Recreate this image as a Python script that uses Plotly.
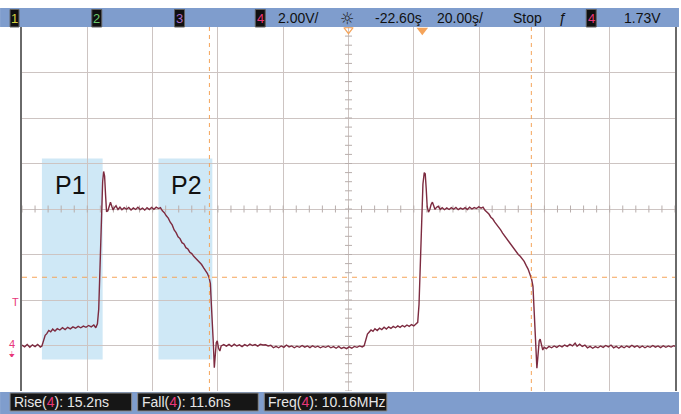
import numpy as np
import plotly.graph_objects as go

# ---------------- data ----------------
# channel 4 trace: (time in ns, volts)
trace_samples = [
    (-122.6, 0.02), (-121.8, -0.06), (-121.0, 0.04), (-120.2, -0.08), (-119.4, 0.03), (-118.6, -0.05),
    (-117.8, 0.05), (-117.0, -0.07), (-116.5, -0.02),
    (-116.0, 0.22), (-115.5, 0.45), (-115.0, 0.52), (-114.4, 0.66), (-113.8, 0.60), (-113.2, 0.72),
    (-112.5, 0.64), (-111.8, 0.74), (-111.0, 0.68), (-110.2, 0.78), (-109.4, 0.70), (-108.6, 0.80),
    (-107.8, 0.73), (-107.0, 0.82), (-106.2, 0.76), (-105.4, 0.84), (-104.6, 0.78), (-103.8, 0.85),
    (-103.0, 0.80), (-102.2, 0.88), (-101.4, 0.82), (-100.6, 0.90), (-100.0, 0.78), (-99.5, 0.95),
    (-99.1, 1.6), (-98.7, 3.4), (-98.3, 5.6), (-97.9, 7.2), (-97.6, 7.65), (-97.3, 7.45), (-97.0, 6.6),
    (-96.7, 5.88), (-96.3, 5.92), (-95.9, 6.18), (-95.5, 6.30), (-95.1, 6.12), (-94.7, 5.96), (-94.3, 6.06),
    (-93.8, 6.14), (-93.2, 5.98), (-92.6, 6.08), (-92.0, 5.97), (-91.3, 6.06), (-90.6, 5.99), (-89.9, 6.07),
    (-89.2, 5.96), (-88.5, 6.05), (-87.8, 5.98), (-87.1, 6.08), (-86.4, 5.97), (-85.7, 6.04), (-85.0, 5.95),
    (-84.3, 6.06), (-83.6, 5.98), (-82.9, 6.07), (-82.2, 5.99), (-81.5, 6.08), (-80.8, 6.02), (-80.2, 6.06),
    (-79.6, 5.92), (-79.0, 5.84), (-78.4, 5.70), (-77.8, 5.60), (-77.2, 5.42), (-76.6, 5.30), (-76.0, 5.08),
    (-75.4, 4.96), (-74.8, 4.78), (-74.2, 4.70), (-73.6, 4.52), (-73.0, 4.46), (-72.4, 4.30), (-71.8, 4.24),
    (-71.2, 4.10), (-70.6, 4.04), (-70.0, 3.92), (-69.4, 3.84), (-68.8, 3.74), (-68.2, 3.64), (-67.6, 3.56),
    (-67.0, 3.42), (-66.4, 3.30), (-65.8, 3.16), (-65.3, 2.98), (-64.9, 2.72),
    (-64.6, 1.8), (-64.3, 1.1), (-64.0, 0.1), (-63.7, -0.98), (-63.4, -0.15), (-63.1, 0.12), (-62.8, 0.20),
    (-62.4, -0.12), (-62.0, -0.24), (-61.6, -0.02),
    (-60.8, 0.04), (-60.0, -0.03), (-59.2, 0.05), (-58.4, -0.04), (-57.6, 0.06), (-56.8, -0.02), (-56.0, 0.03),
    (-55.2, -0.05), (-54.4, 0.04), (-53.6, -0.02), (-52.8, 0.06), (-52.0, 0.00), (-51.2, 0.04), (-50.4, -0.03),
    (-49.6, 0.05), (-48.8, 0.02), (-48.0, 0.03), (-47.2, -0.02), (-46.4, 0.01), (-45.6, -0.10), (-44.8, -0.04),
    (-44.0, -0.10), (-43.2, -0.02), (-42.4, -0.08), (-41.6, 0.02), (-40.8, -0.06), (-40.0, -0.02), (-39.2, -0.10),
    (-38.4, -0.03), (-37.6, -0.08), (-36.8, 0.00), (-36.0, -0.07), (-35.2, -0.02), (-34.4, -0.09), (-33.6, -0.01),
    (-32.8, -0.08), (-32.0, -0.03), (-31.2, -0.10), (-30.4, -0.04), (-29.6, -0.08), (-28.8, -0.02), (-28.0, -0.10),
    (-27.2, -0.05), (-26.4, -0.12), (-25.6, -0.04), (-24.8, -0.13), (-24.0, -0.08), (-23.2, -0.14), (-22.4, -0.06),
    (-21.6, -0.12), (-20.8, -0.04), (-20.0, -0.08), (-19.2, -0.02), (-18.4, -0.06), (-17.8, -0.01),
    (-17.3, 0.25), (-16.8, 0.50), (-16.3, 0.58), (-15.7, 0.68), (-15.1, 0.62), (-14.5, 0.74), (-13.8, 0.66),
    (-13.1, 0.76), (-12.4, 0.70), (-11.7, 0.80), (-11.0, 0.72), (-10.3, 0.82), (-9.6, 0.75), (-8.9, 0.84),
    (-8.2, 0.78), (-7.5, 0.86), (-6.8, 0.80), (-6.1, 0.88), (-5.4, 0.82), (-4.7, 0.90), (-4.0, 0.84),
    (-3.3, 0.92), (-2.6, 0.86), (-1.9, 0.96), (-1.4, 1.02),
    (-1.0, 1.8), (-0.6, 3.6), (-0.2, 5.7), (0.2, 7.1), (0.6, 7.6), (0.9, 7.55), (1.2, 6.9), (1.5, 6.1),
    (1.9, 5.86), (2.3, 5.98), (2.7, 6.20), (3.1, 6.30), (3.5, 6.14), (3.9, 5.98), (4.4, 6.08), (4.9, 6.12),
    (5.5, 5.98), (6.1, 6.06), (6.8, 5.97), (7.5, 6.05), (8.2, 5.98), (8.9, 6.06), (9.6, 5.99), (10.3, 6.07),
    (11.0, 5.97), (11.7, 6.04), (12.4, 5.99), (13.1, 6.06), (13.8, 5.98), (14.5, 6.08), (15.2, 6.00),
    (15.9, 6.06), (16.6, 6.02), (17.3, 6.10), (18.0, 6.04), (18.6, 6.08),
    (19.2, 5.94), (19.8, 5.86), (20.4, 5.78), (21.0, 5.64), (21.6, 5.56), (22.2, 5.42), (22.8, 5.32),
    (23.4, 5.18), (24.0, 5.08), (24.6, 4.94), (25.2, 4.82), (25.8, 4.70), (26.4, 4.60), (27.0, 4.46),
    (27.6, 4.36), (28.2, 4.22), (28.8, 4.12), (29.4, 4.00), (30.0, 3.92), (30.6, 3.80), (31.2, 3.70),
    (31.8, 3.52), (32.4, 3.36), (33.0, 3.12), (33.5, 2.90), (33.9, 2.60),
    (34.2, 1.8), (34.5, 0.9), (34.8, -0.2), (35.1, -1.0), (35.4, -0.5), (35.8, 0.2), (36.1, 0.28),
    (36.5, -0.05), (36.9, -0.20), (37.3, -0.08),
    (38.0, -0.14), (38.8, -0.04), (39.6, -0.10), (40.4, -0.02), (41.2, -0.08), (42.0, 0.00), (42.8, -0.06),
    (43.6, 0.02), (44.4, -0.04), (45.2, 0.05), (46.0, -0.02), (46.8, 0.10), (47.4, -0.03), (48.2, 0.06),
    (49.0, -0.04), (49.8, 0.02), (50.6, -0.10), (51.4, -0.04), (52.2, -0.12), (53.0, -0.05), (53.8, -0.10),
    (54.6, -0.02), (55.4, -0.08), (56.2, 0.00), (57.0, -0.06), (57.8, 0.02), (58.6, -0.10), (59.4, -0.04),
    (60.2, -0.12), (61.0, -0.03), (61.8, -0.10), (62.6, -0.02), (63.4, -0.08), (64.2, 0.01), (65.0, -0.07),
    (65.8, -0.01), (66.6, -0.09), (67.4, -0.02), (68.2, -0.10), (69.0, -0.03), (69.8, -0.08), (70.6, 0.00),
    (71.4, -0.07), (72.2, -0.02), (73.0, -0.09), (73.8, -0.01), (74.6, -0.08), (75.4, -0.02), (76.2, -0.07),
    (77.0, -0.01), (77.4, -0.04),
]
time_ns = [p[0] for p in trace_samples]
volts = [p[1] for p in trace_samples]

# screen settings
volts_per_div = 2.0
ns_per_div = 20.0
delay_ns = -22.6
trigger_level_v = 1.73
trigger_time_ns = 0.0
cursor_times_ns = [-65.2, 33.4]
cursor_level_v = 3.0

# highlighted regions
region_names = ["P1", "P2"]
region_t0 = [-116.5, -80.8]
region_t1 = [-97.9, -64.3]
region_v0 = -0.62
region_v1 = 8.22
region_label_t = [-107.9, -72.2]
region_label_v = 7.05

# header / footer texts
header_channels = ["1", "2", "3", "4"]
header_scale = "2.00V/"
header_delay = "-22.60ş"
header_timebase = "20.00ş/"
header_mode = "Stop"
header_trig_level = "1.73V"
meas_names = ["Rise", "Fall", "Freq"]
meas_values = ["15.2ns", "11.6ns", "10.16MHz"]

# ---------------- geometry ----------------
W, H = 681, 414
ML, MR, MT, MB = 22, 4, 27, 23
PW, PH = W - ML - MR, H - MT - MB
x_min = delay_ns - 5 * ns_per_div
x_max = delay_ns + 5 * ns_per_div
y_min = -1 * volts_per_div
y_max = 7 * volts_per_div


def px(x):
    return (x - ML) / PW


def py(y):
    return (H - MB - y) / PH


TRACE = "#7d2b40"
ORANGE = "#f5a45a"
PINK = "#e8377a"
GRID = "#cdc4c2"
BAR = "#7f9dcd"
FONT = "Liberation Sans, Arial, sans-serif"
NARROW = "Liberation Sans Narrow, Liberation Sans, Arial, sans-serif"

fig = go.Figure()

# center graticule ticks
cx = np.arange(x_min, x_max + 1e-6, ns_per_div / 5)
cy = np.arange(y_min, y_max + 1e-6, volts_per_div / 5)
center_t = delay_ns
center_v = (y_min + y_max) / 2
fig.add_trace(go.Scatter(x=cx, y=[center_v] * len(cx), mode="markers", hoverinfo="skip",
                         marker=dict(symbol="line-ns", size=5, line=dict(width=1, color="#b8aeac")),
                         showlegend=False))
fig.add_trace(go.Scatter(x=[center_t] * len(cy), y=cy, mode="markers", hoverinfo="skip",
                         marker=dict(symbol="line-ew", size=5, line=dict(width=1, color="#b8aeac")),
                         showlegend=False))

# main trace
fig.add_trace(go.Scatter(x=time_ns, y=volts, mode="lines", line=dict(color=TRACE, width=1.4),
                         showlegend=False, hoverinfo="skip"))

# trigger / delay markers at the top edge
fig.add_trace(go.Scatter(x=[trigger_time_ns], y=[y_max - 0.14], mode="markers", cliponaxis=False,
                         marker=dict(symbol="triangle-down", size=10, color=ORANGE), showlegend=False))
fig.add_trace(go.Scatter(x=[delay_ns], y=[y_max - 0.12], mode="markers", cliponaxis=False,
                         marker=dict(symbol="triangle-down-open", size=8, color=ORANGE,
                                     line=dict(width=1.2, color=ORANGE)), showlegend=False))
# left edge markers (trigger level and channel ground)
fig.add_trace(go.Scatter(x=[x_min - 0.6, x_min - 0.6], y=[trigger_level_v, 0.0], mode="markers",
                         cliponaxis=False, marker=dict(symbol="triangle-right", size=6, color=PINK),
                         showlegend=False))

shapes = []
# highlighted regions (below gridlines)
for t0, t1 in zip(region_t0, region_t1):
    shapes.append(dict(type="rect", xref="x", yref="y", x0=t0, x1=t1, y0=region_v0, y1=region_v1,
                       fillcolor="#cfe8f6", line=dict(width=0), layer="below"))
# cursors
for tc in cursor_times_ns:
    shapes.append(dict(type="line", xref="x", yref="y", x0=tc, x1=tc, y0=y_min, y1=y_max,
                       line=dict(color=ORANGE, width=1, dash="4px,4px")))
shapes.append(dict(type="line", xref="x", yref="y", x0=x_min, x1=x_max, y0=cursor_level_v, y1=cursor_level_v,
                   line=dict(color=ORANGE, width=1, dash="5px,5px")))
# top bar
shapes.append(dict(type="rect", xref="paper", yref="paper", x0=px(0), x1=px(W), y0=py(27), y1=py(8),
                   fillcolor=BAR, line=dict(width=0)))
# bottom bar
shapes.append(dict(type="rect", xref="paper", yref="paper", x0=px(0), x1=px(W), y0=py(H), y1=py(392),
                   fillcolor=BAR, line=dict(width=0)))

annotations = []
# channel boxes in header
ch_boxes = [(10, 19), (92, 102), (175, 185), (256, 266)]
ch_colors = ["#d8d440", "#6cc86c", "#a56cc8", PINK]
for (a, b), lab, col in zip(ch_boxes, header_channels, ch_colors):
    shapes.append(dict(type="rect", xref="paper", yref="paper", x0=px(a), x1=px(b), y0=py(27), y1=py(9.5),
                       fillcolor="#101010", line=dict(color="#606060", width=1)))
    annotations.append(dict(xref="paper", yref="paper", x=px((a + b) / 2), y=py(18), text=lab,
                            showarrow=False, xanchor="center", yanchor="middle",
                            font=dict(family=FONT, size=13, color=col)))
# trigger-source box
shapes.append(dict(type="rect", xref="paper", yref="paper", x0=px(588), x1=px(598), y0=py(27), y1=py(9.5),
                   fillcolor="#101010", line=dict(color="#606060", width=1)))
annotations.append(dict(xref="paper", yref="paper", x=px(593), y=py(18), text="4", showarrow=False,
                        xanchor="center", yanchor="middle", font=dict(family=FONT, size=13, color=PINK)))

header_items = [(277, header_scale), (374, header_delay), (436, header_timebase), (512, header_mode),
                (624, header_trig_level)]
for x0, txt in header_items:
    annotations.append(dict(xref="paper", yref="paper", x=px(x0), y=py(18), text=txt, showarrow=False,
                            xanchor="left", yanchor="middle", font=dict(family=FONT, size=14, color="#111111")))
annotations.append(dict(xref="paper", yref="paper", x=px(348), y=py(18), text="☼", showarrow=False,
                        xanchor="center", yanchor="middle",
                        font=dict(family="DejaVu Sans", size=16, color="#222222")))
annotations.append(dict(xref="paper", yref="paper", x=px(565), y=py(18), text="ƒ", showarrow=False,
                        xanchor="center", yanchor="middle", font=dict(family=FONT, size=14, color="#111111")))

# measurement boxes in footer
meas_boxes = [(10, 132), (138, 259), (265, 388)]
for (a, b), name, val in zip(meas_boxes, meas_names, meas_values):
    shapes.append(dict(type="rect", xref="paper", yref="paper", x0=px(a), x1=px(b), y0=py(411), y1=py(393),
                       fillcolor="#161616", line=dict(color="#8a8a8a", width=1)))
    annotations.append(dict(xref="paper", yref="paper", x=px(a + 2), y=py(402),
                            text=f"{name}(<span style='color:{PINK}'>4</span>): {val}",
                            showarrow=False, xanchor="left", yanchor="middle",
                            font=dict(family=NARROW, size=14, color="#e6e6e6")))

# region labels
for name, tl in zip(region_names, region_label_t):
    annotations.append(dict(xref="x", yref="y", x=tl, y=region_label_v, text=name, showarrow=False,
                            xanchor="center", yanchor="middle", font=dict(family=FONT, size=25, color="#111111")))

# left edge labels
annotations.append(dict(xref="paper", yref="y", x=px(15.5), y=trigger_level_v + 0.2, text="T", showarrow=False,
                        xanchor="center", yanchor="middle", font=dict(family=FONT, size=11, color=PINK)))
annotations.append(dict(xref="paper", yref="y", x=px(12), y=0.05, text="4", showarrow=False,
                        xanchor="center", yanchor="middle", font=dict(family=FONT, size=11, color=PINK)))
annotations.append(dict(xref="paper", yref="y", x=px(12), y=-0.4, text="⏚", showarrow=False,
                        xanchor="center", yanchor="middle", font=dict(family="DejaVu Sans", size=8, color=PINK)))

fig.update_layout(
    width=W, height=H,
    margin=dict(l=ML, r=MR, t=MT, b=MB, pad=0),
    paper_bgcolor="white", plot_bgcolor="white",
    shapes=shapes, annotations=annotations, showlegend=False,
    xaxis=dict(range=[x_min, x_max], tick0=x_min, dtick=ns_per_div, showticklabels=False, ticks="",
               showgrid=True, gridcolor=GRID, gridwidth=1.4, zeroline=False, showline=False, fixedrange=True),
    yaxis=dict(range=[y_min, y_max], tick0=y_min, dtick=volts_per_div, showticklabels=False, ticks="",
               showgrid=True, gridcolor=GRID, gridwidth=1.4, zeroline=False,
               showline=True, mirror=True, linecolor="#6a6a6a", linewidth=1.5, fixedrange=True),
)

fig.write_html("out.html", config={"displayModeBar": False},
               post_script="document.body.style.margin='0';document.body.style.overflow='hidden';")
